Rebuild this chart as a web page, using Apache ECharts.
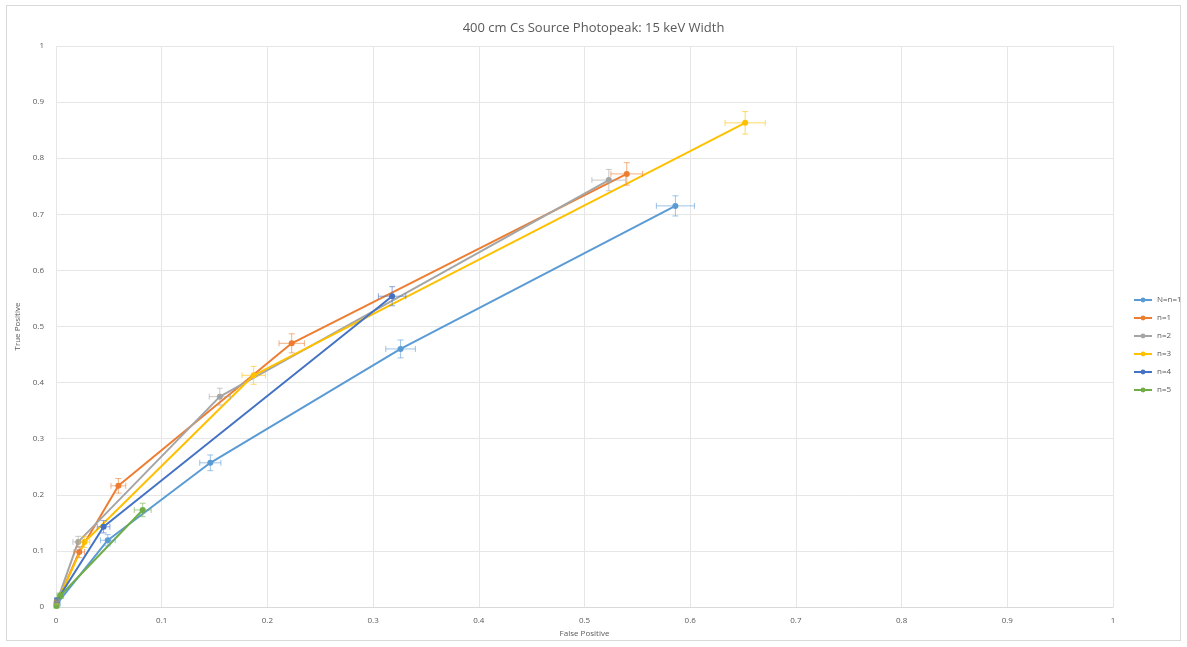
<!DOCTYPE html>
<html>
<head>
<meta charset="utf-8">
<script src="https://cdn.jsdelivr.net/npm/echarts@6/dist/echarts.min.js"></script>
<style>
  html, body { margin: 0; padding: 0; background: #fff; }
  #frame { position: absolute; left: 6px; top: 5px; width: 1173px; height: 634px; border: 1px solid #d9d9d9; }
  #chart { position: absolute; left: 0; top: 0; width: 1187px; height: 647px; }
</style>
</head>
<body>
<div id="frame"></div>
<div id="chart"></div>
<script>
const seriesNames = ['N=n=1', 'n=1', 'n=2', 'n=3', 'n=4', 'n=5'];
const seriesColors = ['#5B9BD5', '#ED7D31', '#A5A5A5', '#FFC000', '#4472C4', '#70AD47'];
const tickLabels = ['0', '0.1', '0.2', '0.3', '0.4', '0.5', '0.6', '0.7', '0.8', '0.9', '1'];

// False positive (x), true positive (y), and their error half-widths
const s0x = [0.001, 0.049, 0.146, 0.326, 0.586];
const s0y = [0.006, 0.119, 0.257, 0.460, 0.715];
const s0ex = [0.003, 0.007, 0.010, 0.014, 0.018];
const s0ey = [0.004, 0.010, 0.014, 0.016, 0.018];

const s1x = [0.001, 0.022, 0.059, 0.223, 0.540];
const s1y = [0.008, 0.098, 0.216, 0.470, 0.772];
const s1ex = [0.002, 0.005, 0.007, 0.012, 0.015];
const s1ey = [0.004, 0.010, 0.013, 0.017, 0.020];

const s2x = [0.001, 0.021, 0.155, 0.523];
const s2y = [0.010, 0.116, 0.375, 0.761];
const s2ex = [0.002, 0.005, 0.010, 0.016];
const s2ey = [0.004, 0.010, 0.015, 0.019];

const s3x = [0.001, 0.027, 0.187, 0.652];
const s3y = [0.008, 0.116, 0.413, 0.863];
const s3ex = [0.002, 0.005, 0.011, 0.019];
const s3ey = [0.004, 0.010, 0.016, 0.020];

const s4x = [0.001, 0.045, 0.318];
const s4y = [0.012, 0.143, 0.554];
const s4ex = [0.002, 0.006, 0.013];
const s4ey = [0.004, 0.011, 0.017];

const s5x = [0.0005, 0.004, 0.082];
const s5y = [0.002, 0.020, 0.173];
const s5ex = [0.002, 0.003, 0.008];
const s5ey = [0.003, 0.005, 0.012];

const allX = [s0x, s1x, s2x, s3x, s4x, s5x];
const allY = [s0y, s1y, s2y, s3y, s4y, s5y];
const allEX = [s0ex, s1ex, s2ex, s3ex, s4ex, s5ex];
const allEY = [s0ey, s1ey, s2ey, s3ey, s4ey, s5ey];

const chart = echarts.init(document.getElementById('chart'));
const series = [];

function errorRender(color) {
  return function (params, api) {
    const x = api.value(0), y = api.value(1), ex = api.value(2), ey = api.value(3);
    const l = api.coord([x - ex, y]);
    const r = api.coord([x + ex, y]);
    const t = api.coord([x, y + ey]);
    const b = api.coord([x, y - ey]);
    const cap = 3;
    const style = { stroke: color, lineWidth: 1, opacity: 0.6 };
    return {
      type: 'group',
      children: [
        { type: 'line', shape: { x1: l[0], y1: l[1], x2: r[0], y2: r[1] }, style: style },
        { type: 'line', shape: { x1: l[0], y1: l[1] - cap, x2: l[0], y2: l[1] + cap }, style: style },
        { type: 'line', shape: { x1: r[0], y1: r[1] - cap, x2: r[0], y2: r[1] + cap }, style: style },
        { type: 'line', shape: { x1: t[0], y1: t[1], x2: b[0], y2: b[1] }, style: style },
        { type: 'line', shape: { x1: t[0] - cap, y1: t[1], x2: t[0] + cap, y2: t[1] }, style: style },
        { type: 'line', shape: { x1: b[0] - cap, y1: b[1], x2: b[0] + cap, y2: b[1] }, style: style }
      ]
    };
  };
}

for (let i = 0; i < seriesNames.length; i++) {
  const pts = allX[i].map((v, k) => [v, allY[i][k]]);
  const errs = allX[i].map((v, k) => [v, allY[i][k], allEX[i][k], allEY[i][k]]);
  series.push({
    name: seriesNames[i],
    type: 'line',
    data: pts,
    color: seriesColors[i],
    symbol: 'circle',
    symbolSize: 6,
    lineStyle: { width: 2, color: seriesColors[i] },
    itemStyle: { color: seriesColors[i] },
    z: 3
  });
  series.push({
    name: seriesNames[i],
    type: 'custom',
    data: errs,
    renderItem: errorRender(seriesColors[i]),
    encode: { x: 0, y: 1 },
    z: 4,
    silent: true
  });
}

const axisLabelStyle = { color: '#595959', fontSize: 8, fontFamily: 'Open Sans' };

chart.setOption({
  animation: false,
  backgroundColor: 'transparent',
  title: {
    text: '400 cm Cs Source Photopeak: 15 keV Width',
    left: 'center',
    top: 17,
    textStyle: { color: '#595959', fontSize: 13, fontWeight: 'normal', fontFamily: 'Open Sans' }
  },
  legend: {
    orient: 'vertical',
    left: 1128,
    top: 291,
    itemGap: 10,
    itemWidth: 18,
    itemHeight: 6,
    data: seriesNames.map((n, i) => ({ name: n, itemStyle: { color: seriesColors[i] } })),
    textStyle: { color: '#595959', fontSize: 8, fontFamily: 'Open Sans' }
  },
  grid: { left: 56, right: 74, top: 46, bottom: 40, containLabel: false },
  xAxis: {
    type: 'value',
    min: 0, max: 1, interval: 0.1,
    name: 'False Positive',
    nameLocation: 'middle',
    nameGap: 23,
    nameTextStyle: { color: '#595959', fontSize: 8, fontFamily: 'Open Sans' },
    axisLine: { show: true, lineStyle: { color: '#d9d9d9' } },
    axisTick: { show: false },
    splitLine: { show: true, lineStyle: { color: '#e6e6e6' } },
    axisLabel: Object.assign({ margin: 10, formatter: v => tickLabels[Math.round(v * 10)] }, axisLabelStyle)
  },
  yAxis: {
    type: 'value',
    min: 0, max: 1, interval: 0.1,
    name: 'True Positive',
    nameLocation: 'middle',
    nameGap: 26,
    nameTextStyle: { color: '#595959', fontSize: 8, fontFamily: 'Open Sans' },
    axisLine: { show: false },
    axisTick: { show: false },
    splitLine: { show: true, lineStyle: { color: '#e6e6e6' } },
    axisLabel: Object.assign({ margin: 12, formatter: v => tickLabels[Math.round(v * 10)] }, axisLabelStyle)
  },
  series: series
});
</script>
</body>
</html>
